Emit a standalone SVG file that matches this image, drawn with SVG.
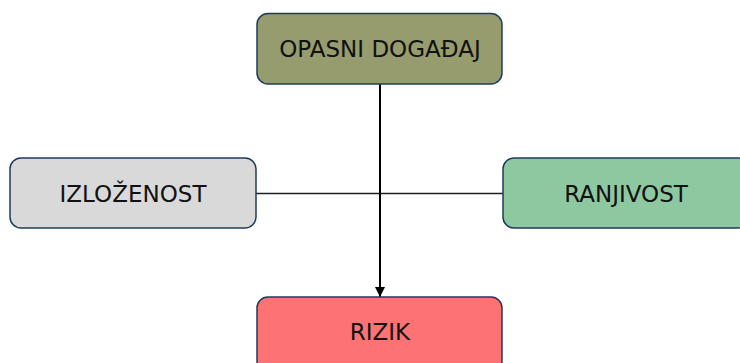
<svg xmlns="http://www.w3.org/2000/svg" width="740" height="363" viewBox="0 0 740 363">
<style>
.box{stroke:#1f3b5c;stroke-width:1.5}
.lbl{font-family:"DejaVu Sans",Verdana,sans-serif;font-size:23px;fill:#111;text-anchor:middle;dominant-baseline:central}
.conn{stroke:#000;stroke-width:2;fill:none}
</style>
<defs>
<marker id="arr" viewBox="0 0 10 10" refX="10" refY="5" markerWidth="5" markerHeight="5" orient="auto" markerUnits="strokeWidth">
<path d="M0,0 L10,5 L0,10 z" fill="#000"/>
</marker>
</defs>
<g id="connectors">
<line class="conn" x1="256" y1="193.5" x2="503" y2="193.5" style="stroke:#222;stroke-width:1.5"/>
<line class="conn" x1="380" y1="84" x2="380" y2="297" marker-end="url(#arr)"/>
</g>
<g id="opasni">
<rect class="box" x="257" y="13.5" width="245" height="70.5" rx="11" fill="#969c6e"/>
<text class="lbl" x="380" y="49">OPASNI DOGAĐAJ</text>
</g>
<g id="izlozenost">
<rect class="box" x="10" y="158" width="246" height="70" rx="11" fill="#d9d9d9"/>
<text class="lbl" x="133" y="193.5">IZLOŽENOST</text>
</g>
<g id="ranjivost">
<rect class="box" x="503" y="158" width="246" height="70" rx="11" fill="#8ec8a0"/>
<text class="lbl" x="626" y="193.5">RANJIVOST</text>
</g>
<g id="rizik">
<rect class="box" x="257" y="297" width="245" height="75" rx="11" fill="#fd7374"/>
<text class="lbl" x="380" y="332">RIZIK</text>
</g>
</svg>
